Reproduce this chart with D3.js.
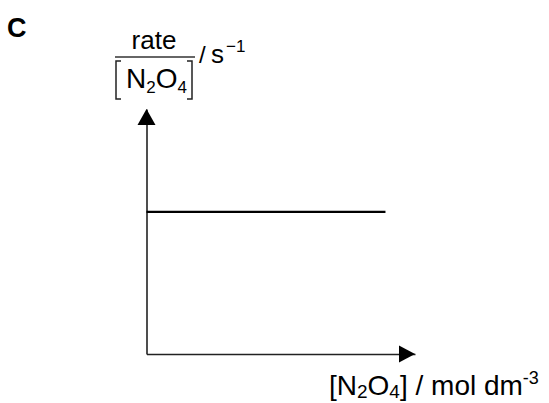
<!DOCTYPE html>
<html>
<head>
<meta charset="utf-8">
<script src="https://cdn.jsdelivr.net/npm/d3@7"></script>
<style>
  body { margin: 0; background: #fff; }
  svg { display: block; font-family: "Liberation Sans", Arial, sans-serif; }
</style>
</head>
<body>
<svg width="549" height="403"></svg>
<script>
// concentration of N2O4 (arbitrary units) and rate/[N2O4] (constant = k)
var concValues = [0, 89];
var rateConstValues = [58, 58];
var panelLabel = "C";

var svg = d3.select("svg");

var x = d3.scaleLinear()
    .domain([0, 100])
    .range([146.5, 415]);

var y = d3.scaleLinear()
    .domain([0, 100])
    .range([354, 109]);

// axes: no ticks, just the lines, with arrowheads
var axisColor = "#222";

svg.append("g")
    .attr("transform", "translate(0," + y(0) + ")")
    .call(d3.axisBottom(x).tickValues([]).tickSizeOuter(0))
    .select(".domain")
    .attr("stroke", axisColor)
    .attr("stroke-width", 1.6);

svg.append("g")
    .attr("transform", "translate(" + x(0) + ",0)")
    .call(d3.axisLeft(y).tickValues([]).tickSizeOuter(0))
    .select(".domain")
    .attr("stroke", axisColor)
    .attr("stroke-width", 1.6);

// arrowheads
var xe = x(100), ye = y(100);
svg.append("path")
    .attr("d", "M" + xe + "," + y(0) + "L" + (xe - 16) + "," + (y(0) - 8.5) + "L" + (xe - 16) + "," + (y(0) + 8.5) + "Z")
    .attr("fill", "#000");
svg.append("path")
    .attr("d", "M" + x(0) + "," + ye + "L" + (x(0) - 9) + "," + (ye + 16) + "L" + (x(0) + 9) + "," + (ye + 16) + "Z")
    .attr("fill", "#000");

// data line
var line = d3.line()
    .x(function(d, i) { return x(concValues[i]); })
    .y(function(d) { return y(d); });

svg.append("path")
    .datum(rateConstValues)
    .attr("d", line)
    .attr("fill", "none")
    .attr("stroke", "#000")
    .attr("stroke-width", 2.2);

// panel label
svg.append("text")
    .attr("x", 7)
    .attr("y", 37)
    .attr("font-size", 27)
    .attr("font-weight", "bold")
    .text(panelLabel);

// y axis label: rate / [N2O4]  / s^-1
var yl = svg.append("g");
yl.append("text")
    .attr("x", 154)
    .attr("y", 49)
    .attr("text-anchor", "middle")
    .attr("font-size", 26)
    .text("rate");
yl.append("line")
    .attr("x1", 115).attr("x2", 195)
    .attr("y1", 57).attr("y2", 57)
    .attr("stroke", "#333")
    .attr("stroke-width", 1.5);
// thin stretched brackets
yl.append("path")
    .attr("d", "M121,61H116V99H121M187,61H192V99H187")
    .attr("fill", "none")
    .attr("stroke", "#222")
    .attr("stroke-width", 1.5);
var den = yl.append("text")
    .attr("x", 126)
    .attr("y", 88)
    .attr("font-size", 28);
den.append("tspan").text("N");
den.append("tspan").attr("dy", 5).attr("font-size", 17).text("2");
den.append("tspan").attr("dy", -5).text("O");
den.append("tspan").attr("dy", 5).attr("font-size", 17).text("4");
yl.append("text")
    .attr("x", 199).attr("y", 63)
    .attr("font-size", 24)
    .text("/");
var unit = yl.append("text")
    .attr("x", 211).attr("y", 63)
    .attr("font-size", 26);
unit.append("tspan").text("s");
unit.append("tspan").attr("dy", -11).attr("dx", 2).attr("font-size", 17).text("\u22121");

// x axis label
var xl = svg.append("text")
    .attr("x", 329)
    .attr("y", 395)
    .attr("font-size", 28);
xl.append("tspan").text("[N");
xl.append("tspan").attr("dy", 3).attr("font-size", 19).text("2");
xl.append("tspan").attr("dy", -3).text("O");
xl.append("tspan").attr("dy", 3).attr("font-size", 19).text("4");
xl.append("tspan").attr("dy", -3).text("] / mol dm");
xl.append("tspan").attr("dy", -11).attr("font-size", 18).text("-3");
</script>
</body>
</html>
